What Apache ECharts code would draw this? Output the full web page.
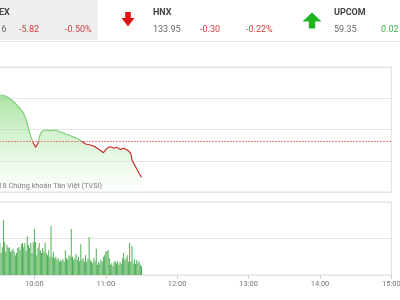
<!DOCTYPE html>
<html><head><meta charset="utf-8">
<script src="https://cdn.jsdelivr.net/npm/echarts@6/dist/echarts.min.js"></script>
<style>html,body{margin:0;padding:0;background:#fff;overflow:hidden;width:400px;height:300px;position:relative}
#c{position:absolute;left:-37px;top:0;width:437px;height:300px}</style>
</head><body><div id="c"></div>
<script>
// ---- data ----
const indexNames   = ["VNINDEX", "HNX", "UPCOM"];
const indexValues  = ["1,158.16", "133.95", "59.35"];
const indexChanges = [-5.82, -0.30, 0.02];
const indexPercents= [-0.50, -0.22, 0.03];

const refPrice = 1163.98;
const priceTimes = ["9:30","9:36","9:40","9:44","9:48","9:51","9:53","9:55","9:57","9:59",
  "10:01","10:03","10:04","10:06","10:09","10:13","10:18","10:21","10:25","10:29",
  "10:32","10:34","10:37","10:39","10:43","10:47","10:51","10:55","10:58","11:01",
  "11:04","11:07","11:09","11:12","11:15","11:18","11:21","11:22","11:25","11:28","11:30"];
const priceValues = [1171.32,1171.16,1170.63,1169.99,1169.19,1168.39,1167.32,1166.00,1164.65,1163.69,
  1162.95,1163.59,1164.55,1165.45,1165.72,1165.61,1165.72,1165.45,1165.19,1164.92,
  1164.65,1164.55,1164.23,1164.01,1163.48,1163.32,1163.05,1162.52,1162.09,1162.79,
  1163.05,1162.79,1162.95,1162.63,1162.79,1162.52,1161.99,1160.92,1159.85,1158.79,1158.15];

const volumeStart = "9:31";
const volumeValues = [44,30,38,75,45,32,41,37,38,32,
  34,36,32,27,30,37,38,34,42,44,
  38,44,33,53,41,37,44,30,45,63,
  45,27,37,44,34,30,37,32,44,30,
  27,34,25,67,25,32,23,25,21,23,
  18,21,19,22,18,34,23,21,27,25,
  63,25,21,23,29,21,25,19,42,21,
  23,18,27,18,22,52,21,18,16,23,
  19,36,14,18,16,21,18,25,27,32,
  33,34,23,14,16,12,18,19,16,19,
  14,18,15,23,30,21,23,27,18,44,
  18,40,16,21,15,21,16,19,14,12];

const axisTimes = ["9:00","10:00","11:00","12:00","13:00","14:00","15:00"];
const watermark = "©2018 Chứng khoán Tân Việt (TVSI)";

// ---- helpers ----
function toMin(s){ const p = s.split(":"); return (+p[0])*60 + (+p[1]); }
function fmt(m){ const h = Math.floor(m/60), mm = m%60; return (h<10?"0":"")+h+":"+(mm<10?"0":"")+mm; }
const axisMin = toMin(axisTimes[0]), axisMax = toMin(axisTimes[axisTimes.length-1]);
const OX = 37; // chart canvas is shifted left by this many px (cropped view)

const chart = echarts.init(document.getElementById('c'), null, {renderer:'canvas'});

const RED = '#d33f3f', GREEN = '#3fae4a';
const groupX = [-28, 153, 334];
const graphics = [
  {type:'rect', shape:{x:0, y:0, width:98+OX, height:40}, style:{fill:'#efefef'}, z:0},
  {type:'rect', shape:{x:0, y:41, width:437, height:1}, style:{fill:'#e6e6e6'}, z:0}
];
const T = (o)=>Object.assign({textVerticalAlign:'middle', verticalAlign:'middle'}, o);
indexNames.forEach((n,i)=>{
  const x = groupX[i] + OX;
  const up = indexChanges[i] >= 0;
  const col = up ? GREEN : RED;
  const f9 = '9px Roboto';
  graphics.push({type:'text', style:T({text:n, x:x, y:13, font:'bold 9px Roboto', fill:'#444'}), z:5});
  graphics.push({type:'text', style:T({text:indexValues[i], x:x, y:29.5, font:f9, fill:'#666'}), z:5});
  graphics.push({type:'text', style:T({text:indexChanges[i].toFixed(2), x:x+47, y:29.5, font:f9, fill:col}), z:5});
  graphics.push({type:'text', style:T({text:indexPercents[i].toFixed(2)+'%', x:x+93, y:29.5, font:f9, fill:col}), z:5});
  if (up) {
    const ax = x - 22;
    graphics.push({type:'polygon', shape:{points:[[ax-9.5,21.5],[ax,12.5],[ax+9.5,21.5],[ax+3.2,21.5],[ax+3.2,28.5],[ax-3.2,28.5],[ax-3.2,21.5]]}, style:{fill:'#1fb51f'}, z:5});
  } else {
    const ax = x - 25;
    graphics.push({type:'polygon', shape:{points:[[ax-2.8,12],[ax+2.8,12],[ax+2.8,18],[ax+6.5,18],[ax,26.5],[ax-6.5,18],[ax-2.8,18]]}, style:{fill:'#e31414'}, z:5});
  }
});
graphics.push({type:'text', style:T({text:watermark, x:102+OX, y:186, font:'7.3px Roboto', fill:'#7d7d7d', textAlign:'right', align:'right'}), z:5});

const vStart = toMin(volumeStart);
chart.setOption({
  animation:false,
  textStyle:{fontFamily:'Roboto'},
  graphic: graphics,
  grid:[
    {left:0, right:8.6, top:67, height:125, show:true, borderColor:'#e0e0e0', borderWidth:1, containLabel:false, outerBoundsMode:'none'},
    {left:0, right:8.6, top:202, height:73, show:true, borderColor:'#e0e0e0', borderWidth:1, containLabel:false, outerBoundsMode:'none'}
  ],
  xAxis:[
    {type:'value', gridIndex:0, min:axisMin, max:axisMax, interval:60, axisLabel:{show:false}, axisTick:{show:false}, axisLine:{show:false}, splitLine:{show:false}},
    {type:'value', gridIndex:1, min:axisMin, max:axisMax, interval:60,
      axisLabel:{formatter:v=>fmt(v), fontSize:7.5, color:'#777', margin:5, showMaxLabel:true, hideOverlap:false},
      axisTick:{show:true, length:4, lineStyle:{color:'#cfcfcf'}}, axisLine:{show:false}, splitLine:{show:false}}
  ],
  yAxis:[
    {type:'value', gridIndex:0, min:1155.8, max:1175.8, interval:5, axisLabel:{show:false}, axisTick:{show:false}, axisLine:{show:false}, splitLine:{lineStyle:{color:'#e6e6e6'}}},
    {type:'value', gridIndex:1, min:0, max:100, interval:50, axisLabel:{show:false}, axisTick:{show:false}, axisLine:{show:false}, splitLine:{lineStyle:{color:'#e6e6e6'}}}
  ],
  visualMap:[{type:'piecewise', show:false, seriesIndex:0, dimension:1,
    pieces:[{min:refPrice, max:1200, color:'#7fd079'},{min:1100, max:refPrice, color:'#c92a2a'}]}],
  series:[
    {type:'line', xAxisIndex:0, yAxisIndex:0, showSymbol:false, symbol:'none',
      data: priceTimes.map((t,i)=>[toMin(t), priceValues[i]]),
      lineStyle:{width:1.2},
      areaStyle:{color:new echarts.graphic.LinearGradient(0,0,0,1,[
        {offset:0, color:'rgba(120,210,108,0.9)'},
        {offset:0.55, color:'rgba(180,235,172,0.6)'},
        {offset:1, color:'rgba(235,250,232,0.2)'}])}
    },
    {type:'line', xAxisIndex:0, yAxisIndex:0, data:[], symbol:'none', silent:true,
      markLine:{silent:true, symbol:'none', label:{show:false},
        lineStyle:{color:'#e27f7f', type:[2,1], width:1},
        data:[{yAxis:refPrice}]}
    },
    {type:'bar', xAxisIndex:1, yAxisIndex:1, barWidth:1,
      data: volumeValues.map((v,i)=>[vStart+i, v]),
      itemStyle:{color:'#4fae55'}}
  ]
});
</script>
</body></html>
